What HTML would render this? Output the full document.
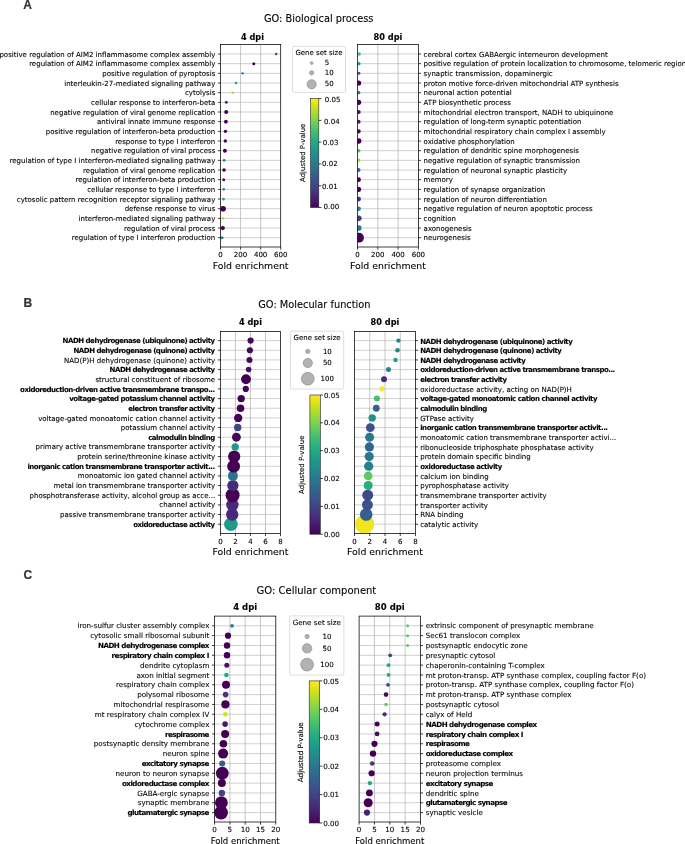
<!DOCTYPE html>
<html><head><meta charset="utf-8"><title>GO enrichment</title>
<style>html,body{margin:0;padding:0;background:#fff}svg{display:block}text{white-space:pre;stroke:#000;stroke-width:0.1px;paint-order:stroke}</style>
</head><body>
<svg width="685" height="844" viewBox="0 0 685 844" font-family="'DejaVu Sans','Liberation Sans',sans-serif">
<rect width="685" height="844" fill="#fff"/>
<text x="23.2" y="8.6" font-family="'Liberation Sans',sans-serif" font-size="12" font-weight="bold" fill="#333" style="stroke:#333;stroke-width:0.2px">A</text>
<text x="318.70" y="21.90" font-size="9.8" text-anchor="middle" fill="#000">GO: Biological process</text>
<path d="M240.57 44.50V247.00M260.63 44.50V247.00" stroke="#b0b0b0" stroke-width="0.7" fill="none"/>
<path d="M220.50 54.00H280.70M220.50 63.67H280.70M220.50 73.34H280.70M220.50 83.01H280.70M220.50 92.67H280.70M220.50 102.34H280.70M220.50 112.01H280.70M220.50 121.68H280.70M220.50 131.35H280.70M220.50 141.02H280.70M220.50 150.68H280.70M220.50 160.35H280.70M220.50 170.02H280.70M220.50 179.69H280.70M220.50 189.36H280.70M220.50 199.03H280.70M220.50 208.69H280.70M220.50 218.36H280.70M220.50 228.03H280.70M220.50 237.70H280.70" stroke="#b0b0b0" stroke-width="0.6" fill="none"/>
<clipPath id="c1"><rect x="220.50" y="44.50" width="60.20" height="202.50"/></clipPath>
<g clip-path="url(#c1)">
<circle cx="222.00" cy="237.70" r="1.50" fill="#287d8e"/>
<circle cx="222.80" cy="228.03" r="2.10" fill="#440154"/>
<circle cx="223.00" cy="218.36" r="1.40" fill="#bddf26"/>
<circle cx="223.10" cy="208.69" r="2.80" fill="#440154"/>
<circle cx="223.50" cy="199.03" r="1.40" fill="#1fa188"/>
<circle cx="223.70" cy="189.36" r="1.40" fill="#21918c"/>
<circle cx="223.70" cy="179.69" r="1.50" fill="#471063"/>
<circle cx="224.00" cy="170.02" r="1.80" fill="#440154"/>
<circle cx="224.10" cy="160.35" r="1.40" fill="#2a788e"/>
<circle cx="224.90" cy="150.68" r="2.00" fill="#440154"/>
<circle cx="225.30" cy="141.02" r="1.70" fill="#46085c"/>
<circle cx="225.40" cy="131.35" r="1.70" fill="#440154"/>
<circle cx="225.90" cy="121.68" r="1.90" fill="#440154"/>
<circle cx="226.20" cy="112.01" r="2.00" fill="#440154"/>
<circle cx="226.30" cy="102.34" r="1.50" fill="#463480"/>
<circle cx="232.70" cy="92.67" r="1.20" fill="#9bd93c"/>
<circle cx="236.10" cy="83.01" r="1.20" fill="#1e9c89"/>
<circle cx="242.60" cy="73.34" r="1.20" fill="#2a788e"/>
<circle cx="253.80" cy="63.67" r="1.50" fill="#440154"/>
<circle cx="276.20" cy="54.00" r="1.20" fill="#463480"/>
</g>
<rect x="220.50" y="44.50" width="60.20" height="202.50" fill="none" stroke="#000" stroke-width="0.75"/>
<path d="M220.50 247.00v2.6M240.57 247.00v2.6M260.63 247.00v2.6M280.70 247.00v2.6M220.50 54.00h-2.6M220.50 63.67h-2.6M220.50 73.34h-2.6M220.50 83.01h-2.6M220.50 92.67h-2.6M220.50 102.34h-2.6M220.50 112.01h-2.6M220.50 121.68h-2.6M220.50 131.35h-2.6M220.50 141.02h-2.6M220.50 150.68h-2.6M220.50 160.35h-2.6M220.50 170.02h-2.6M220.50 179.69h-2.6M220.50 189.36h-2.6M220.50 199.03h-2.6M220.50 208.69h-2.6M220.50 218.36h-2.6M220.50 228.03h-2.6M220.50 237.70h-2.6" stroke="#000" stroke-width="0.75" fill="none"/>
<text x="220.50" y="257.40" font-size="7.03" text-anchor="middle" fill="#000">0</text>
<text x="240.57" y="257.40" font-size="7.03" text-anchor="middle" fill="#000">200</text>
<text x="260.63" y="257.40" font-size="7.03" text-anchor="middle" fill="#000">400</text>
<text x="280.70" y="257.40" font-size="7.03" text-anchor="middle" fill="#000">600</text>
<text x="250.60" y="268.50" font-size="9.35" text-anchor="middle" fill="#000">Fold enrichment</text>
<text x="252.50" y="39.70" font-size="8.2" text-anchor="middle" font-weight="bold" fill="#000">4 dpi</text>
<text x="215.30" y="56.60" font-size="7.03" text-anchor="end" fill="#000">positive regulation of AIM2 inflammasome complex assembly</text>
<text x="215.30" y="66.27" font-size="7.03" text-anchor="end" fill="#000">regulation of AIM2 inflammasome complex assembly</text>
<text x="215.30" y="75.94" font-size="7.03" text-anchor="end" fill="#000">positive regulation of pyroptosis</text>
<text x="215.30" y="85.61" font-size="7.03" text-anchor="end" fill="#000">interleukin-27-mediated signaling pathway</text>
<text x="215.30" y="95.27" font-size="7.03" text-anchor="end" fill="#000">cytolysis</text>
<text x="215.30" y="104.94" font-size="7.03" text-anchor="end" fill="#000">cellular response to interferon-beta</text>
<text x="215.30" y="114.61" font-size="7.03" text-anchor="end" fill="#000">negative regulation of viral genome replication</text>
<text x="215.30" y="124.28" font-size="7.03" text-anchor="end" fill="#000">antiviral innate immune response</text>
<text x="215.30" y="133.95" font-size="7.03" text-anchor="end" fill="#000">positive regulation of interferon-beta production</text>
<text x="215.30" y="143.62" font-size="7.03" text-anchor="end" fill="#000">response to type I interferon</text>
<text x="215.30" y="153.28" font-size="7.03" text-anchor="end" fill="#000">negative regulation of viral process</text>
<text x="215.30" y="162.95" font-size="7.03" text-anchor="end" fill="#000">regulation of type I interferon-mediated signaling pathway</text>
<text x="215.30" y="172.62" font-size="7.03" text-anchor="end" fill="#000">regulation of viral genome replication</text>
<text x="215.30" y="182.29" font-size="7.03" text-anchor="end" fill="#000">regulation of interferon-beta production</text>
<text x="215.30" y="191.96" font-size="7.03" text-anchor="end" fill="#000">cellular response to type I interferon</text>
<text x="215.30" y="201.63" font-size="7.03" text-anchor="end" fill="#000">cytosolic pattern recognition receptor signaling pathway</text>
<text x="215.30" y="211.29" font-size="7.03" text-anchor="end" fill="#000">defense response to virus</text>
<text x="215.30" y="220.96" font-size="7.03" text-anchor="end" fill="#000">interferon-mediated signaling pathway</text>
<text x="215.30" y="230.63" font-size="7.03" text-anchor="end" fill="#000">regulation of viral process</text>
<text x="215.30" y="240.30" font-size="7.03" text-anchor="end" fill="#000">regulation of type I interferon production</text>
<path d="M377.80 44.50V247.00M398.10 44.50V247.00" stroke="#b0b0b0" stroke-width="0.7" fill="none"/>
<path d="M357.50 54.00H418.40M357.50 63.67H418.40M357.50 73.34H418.40M357.50 83.01H418.40M357.50 92.67H418.40M357.50 102.34H418.40M357.50 112.01H418.40M357.50 121.68H418.40M357.50 131.35H418.40M357.50 141.02H418.40M357.50 150.68H418.40M357.50 160.35H418.40M357.50 170.02H418.40M357.50 179.69H418.40M357.50 189.36H418.40M357.50 199.03H418.40M357.50 208.69H418.40M357.50 218.36H418.40M357.50 228.03H418.40M357.50 237.70H418.40" stroke="#b0b0b0" stroke-width="0.6" fill="none"/>
<clipPath id="c2"><rect x="357.50" y="44.50" width="60.90" height="202.50"/></clipPath>
<g clip-path="url(#c2)">
<circle cx="359.00" cy="237.70" r="4.90" fill="#440154"/>
<circle cx="358.80" cy="228.03" r="2.80" fill="#2a788e"/>
<circle cx="358.80" cy="218.36" r="2.80" fill="#433e85"/>
<circle cx="358.60" cy="208.69" r="2.30" fill="#25848e"/>
<circle cx="358.60" cy="199.03" r="2.40" fill="#472a7a"/>
<circle cx="358.50" cy="189.36" r="2.60" fill="#440154"/>
<circle cx="358.50" cy="179.69" r="2.40" fill="#440154"/>
<circle cx="358.60" cy="170.02" r="1.90" fill="#31678e"/>
<circle cx="358.70" cy="160.35" r="1.80" fill="#a8db34"/>
<circle cx="358.70" cy="150.68" r="1.80" fill="#4ec36b"/>
<circle cx="358.60" cy="141.02" r="2.80" fill="#440154"/>
<circle cx="358.60" cy="131.35" r="2.10" fill="#46085c"/>
<circle cx="358.60" cy="121.68" r="2.00" fill="#481a6c"/>
<circle cx="358.60" cy="112.01" r="2.10" fill="#471365"/>
<circle cx="358.60" cy="102.34" r="2.60" fill="#440154"/>
<circle cx="358.70" cy="92.67" r="1.70" fill="#2f6c8e"/>
<circle cx="358.60" cy="83.01" r="2.60" fill="#440154"/>
<circle cx="358.90" cy="73.34" r="1.50" fill="#3b528b"/>
<circle cx="359.00" cy="63.67" r="1.60" fill="#1e9c89"/>
<circle cx="359.20" cy="54.00" r="1.70" fill="#44bf70"/>
</g>
<rect x="357.50" y="44.50" width="60.90" height="202.50" fill="none" stroke="#000" stroke-width="0.75"/>
<path d="M357.50 247.00v2.6M377.80 247.00v2.6M398.10 247.00v2.6M418.40 247.00v2.6M418.40 54.00h2.6M418.40 63.67h2.6M418.40 73.34h2.6M418.40 83.01h2.6M418.40 92.67h2.6M418.40 102.34h2.6M418.40 112.01h2.6M418.40 121.68h2.6M418.40 131.35h2.6M418.40 141.02h2.6M418.40 150.68h2.6M418.40 160.35h2.6M418.40 170.02h2.6M418.40 179.69h2.6M418.40 189.36h2.6M418.40 199.03h2.6M418.40 208.69h2.6M418.40 218.36h2.6M418.40 228.03h2.6M418.40 237.70h2.6" stroke="#000" stroke-width="0.75" fill="none"/>
<text x="357.50" y="257.40" font-size="7.03" text-anchor="middle" fill="#000">0</text>
<text x="377.80" y="257.40" font-size="7.03" text-anchor="middle" fill="#000">200</text>
<text x="398.10" y="257.40" font-size="7.03" text-anchor="middle" fill="#000">400</text>
<text x="418.40" y="257.40" font-size="7.03" text-anchor="middle" fill="#000">600</text>
<text x="387.95" y="268.50" font-size="9.35" text-anchor="middle" fill="#000">Fold enrichment</text>
<text x="387.95" y="39.70" font-size="8.2" text-anchor="middle" font-weight="bold" fill="#000">80 dpi</text>
<text x="423.60" y="56.60" font-size="7.03" text-anchor="start" fill="#000">cerebral cortex GABAergic interneuron development</text>
<text x="423.60" y="66.27" font-size="7.03" text-anchor="start" fill="#000">positive regulation of protein localization to chromosome, telomeric region</text>
<text x="423.60" y="75.94" font-size="7.03" text-anchor="start" fill="#000">synaptic transmission, dopaminergic</text>
<text x="423.60" y="85.61" font-size="7.03" text-anchor="start" fill="#000">proton motive force-driven mitochondrial ATP synthesis</text>
<text x="423.60" y="95.27" font-size="7.03" text-anchor="start" fill="#000">neuronal action potential</text>
<text x="423.60" y="104.94" font-size="7.03" text-anchor="start" fill="#000">ATP biosynthetic process</text>
<text x="423.60" y="114.61" font-size="7.03" text-anchor="start" fill="#000">mitochondrial electron transport, NADH to ubiquinone</text>
<text x="423.60" y="124.28" font-size="7.03" text-anchor="start" fill="#000">regulation of long-term synaptic potentiation</text>
<text x="423.60" y="133.95" font-size="7.03" text-anchor="start" fill="#000">mitochondrial respiratory chain complex I assembly</text>
<text x="423.60" y="143.62" font-size="7.03" text-anchor="start" fill="#000">oxidative phosphorylation</text>
<text x="423.60" y="153.28" font-size="7.03" text-anchor="start" fill="#000">regulation of dendritic spine morphogenesis</text>
<text x="423.60" y="162.95" font-size="7.03" text-anchor="start" fill="#000">negative regulation of synaptic transmission</text>
<text x="423.60" y="172.62" font-size="7.03" text-anchor="start" fill="#000">regulation of neuronal synaptic plasticity</text>
<text x="423.60" y="182.29" font-size="7.03" text-anchor="start" fill="#000">memory</text>
<text x="423.60" y="191.96" font-size="7.03" text-anchor="start" fill="#000">regulation of synapse organization</text>
<text x="423.60" y="201.63" font-size="7.03" text-anchor="start" fill="#000">regulation of neuron differentiation</text>
<text x="423.60" y="211.29" font-size="7.03" text-anchor="start" fill="#000">negative regulation of neuron apoptotic process</text>
<text x="423.60" y="220.96" font-size="7.03" text-anchor="start" fill="#000">cognition</text>
<text x="423.60" y="230.63" font-size="7.03" text-anchor="start" fill="#000">axonogenesis</text>
<text x="423.60" y="240.30" font-size="7.03" text-anchor="start" fill="#000">neurogenesis</text>
<rect x="292.50" y="46.40" width="53.00" height="46.00" rx="1.8" fill="#fff" stroke="#d4d4d4" stroke-width="0.8"/>
<text x="319.00" y="54.70" font-size="7.0" text-anchor="middle" fill="#000">Gene set size</text>
<circle cx="311.60" cy="63.10" r="1.40" fill="#b2b2b2" stroke="#8c8c8c" stroke-width="0.7"/>
<text x="324.70" y="65.20" font-size="7.0" text-anchor="start" fill="#000">5</text>
<circle cx="311.60" cy="72.80" r="2.10" fill="#b2b2b2" stroke="#8c8c8c" stroke-width="0.7"/>
<text x="324.70" y="74.90" font-size="7.0" text-anchor="start" fill="#000">10</text>
<circle cx="311.60" cy="84.30" r="4.60" fill="#b2b2b2" stroke="#8c8c8c" stroke-width="0.7"/>
<text x="324.70" y="86.40" font-size="7.0" text-anchor="start" fill="#000">50</text>
<linearGradient id="gA" x1="0" y1="0" x2="0" y2="1"><stop offset="0.0000" stop-color="#fde725"/><stop offset="0.0312" stop-color="#ece51b"/><stop offset="0.0625" stop-color="#d8e219"/><stop offset="0.0938" stop-color="#c2df23"/><stop offset="0.1250" stop-color="#addc30"/><stop offset="0.1562" stop-color="#98d83e"/><stop offset="0.1875" stop-color="#84d44b"/><stop offset="0.2188" stop-color="#70cf57"/><stop offset="0.2500" stop-color="#5ec962"/><stop offset="0.2812" stop-color="#4ec36b"/><stop offset="0.3125" stop-color="#3fbc73"/><stop offset="0.3438" stop-color="#32b67a"/><stop offset="0.3750" stop-color="#28ae80"/><stop offset="0.4062" stop-color="#22a785"/><stop offset="0.4375" stop-color="#1fa088"/><stop offset="0.4688" stop-color="#1f988b"/><stop offset="0.5000" stop-color="#21918c"/><stop offset="0.5312" stop-color="#23898e"/><stop offset="0.5625" stop-color="#26828e"/><stop offset="0.5938" stop-color="#297a8e"/><stop offset="0.6250" stop-color="#2c728e"/><stop offset="0.6562" stop-color="#2f6b8e"/><stop offset="0.6875" stop-color="#33638d"/><stop offset="0.7188" stop-color="#375b8d"/><stop offset="0.7500" stop-color="#3b528b"/><stop offset="0.7812" stop-color="#3e4989"/><stop offset="0.8125" stop-color="#424086"/><stop offset="0.8438" stop-color="#453781"/><stop offset="0.8750" stop-color="#472d7b"/><stop offset="0.9062" stop-color="#482374"/><stop offset="0.9375" stop-color="#48186a"/><stop offset="0.9688" stop-color="#470d60"/><stop offset="1.0000" stop-color="#440154"/></linearGradient>
<rect x="310.60" y="98.60" width="8.20" height="108.90" fill="url(#gA)" stroke="#222" stroke-width="0.6"/>
<text x="323.50" y="209.20" font-size="7.03" text-anchor="start" fill="#000">0.00</text>
<text x="322.00" y="188.52" font-size="7.03" text-anchor="start" fill="#000">0.01</text>
<text x="322.00" y="166.34" font-size="7.03" text-anchor="start" fill="#000">0.02</text>
<text x="322.80" y="144.76" font-size="7.03" text-anchor="start" fill="#000">0.03</text>
<text x="324.10" y="123.58" font-size="7.03" text-anchor="start" fill="#000">0.04</text>
<text x="324.80" y="101.50" font-size="7.03" text-anchor="start" fill="#000">0.05</text>
<path d="M318.80 207.50h2.6M318.80 185.72h2.6M318.80 163.94h2.6M318.80 142.16h2.6M318.80 120.38h2.6M318.80 98.60h2.6" stroke="#000" stroke-width="0.75" fill="none"/>
<text transform="translate(304.60 152.80) rotate(-90)" font-size="7.0" text-anchor="middle" fill="#000">Adjusted P-value</text>
<text x="23.4" y="306.5" font-family="'Liberation Sans',sans-serif" font-size="12" font-weight="bold" fill="#333" style="stroke:#333;stroke-width:0.2px">B</text>
<text x="314.40" y="307.50" font-size="9.8" text-anchor="middle" fill="#000">GO: Molecular function</text>
<path d="M235.43 331.40V533.40M250.45 331.40V533.40M265.48 331.40V533.40" stroke="#b0b0b0" stroke-width="0.7" fill="none"/>
<path d="M220.40 340.60H280.50M220.40 350.26H280.50M220.40 359.93H280.50M220.40 369.59H280.50M220.40 379.25H280.50M220.40 388.92H280.50M220.40 398.58H280.50M220.40 408.24H280.50M220.40 417.91H280.50M220.40 427.57H280.50M220.40 437.23H280.50M220.40 446.89H280.50M220.40 456.56H280.50M220.40 466.22H280.50M220.40 475.88H280.50M220.40 485.55H280.50M220.40 495.21H280.50M220.40 504.87H280.50M220.40 514.54H280.50M220.40 524.20H280.50" stroke="#b0b0b0" stroke-width="0.6" fill="none"/>
<clipPath id="c3"><rect x="220.40" y="331.40" width="60.10" height="202.00"/></clipPath>
<g clip-path="url(#c3)">
<circle cx="230.90" cy="524.20" r="6.80" fill="#1e9c89"/>
<circle cx="232.20" cy="514.54" r="6.20" fill="#472a7a"/>
<circle cx="232.40" cy="504.87" r="6.20" fill="#472a7a"/>
<circle cx="232.60" cy="495.21" r="7.00" fill="#440154"/>
<circle cx="232.90" cy="485.55" r="5.60" fill="#472a7a"/>
<circle cx="232.90" cy="475.88" r="5.00" fill="#2c738e"/>
<circle cx="233.60" cy="466.22" r="6.40" fill="#440154"/>
<circle cx="234.20" cy="456.56" r="6.10" fill="#440154"/>
<circle cx="235.20" cy="446.89" r="3.70" fill="#1e9c89"/>
<circle cx="236.40" cy="437.23" r="4.40" fill="#450457"/>
<circle cx="237.70" cy="427.57" r="3.70" fill="#414487"/>
<circle cx="238.20" cy="417.91" r="4.20" fill="#450457"/>
<circle cx="240.50" cy="408.24" r="3.80" fill="#450457"/>
<circle cx="241.20" cy="398.58" r="3.70" fill="#450457"/>
<circle cx="245.80" cy="388.92" r="3.10" fill="#450457"/>
<circle cx="246.00" cy="379.25" r="4.90" fill="#440154"/>
<circle cx="248.60" cy="369.59" r="2.80" fill="#471365"/>
<circle cx="249.50" cy="359.93" r="3.00" fill="#46085c"/>
<circle cx="249.90" cy="350.26" r="3.10" fill="#46085c"/>
<circle cx="250.60" cy="340.60" r="3.10" fill="#46085c"/>
</g>
<rect x="220.40" y="331.40" width="60.10" height="202.00" fill="none" stroke="#000" stroke-width="0.75"/>
<path d="M220.40 533.40v2.6M235.43 533.40v2.6M250.45 533.40v2.6M265.48 533.40v2.6M280.50 533.40v2.6M220.40 340.60h-2.6M220.40 350.26h-2.6M220.40 359.93h-2.6M220.40 369.59h-2.6M220.40 379.25h-2.6M220.40 388.92h-2.6M220.40 398.58h-2.6M220.40 408.24h-2.6M220.40 417.91h-2.6M220.40 427.57h-2.6M220.40 437.23h-2.6M220.40 446.89h-2.6M220.40 456.56h-2.6M220.40 466.22h-2.6M220.40 475.88h-2.6M220.40 485.55h-2.6M220.40 495.21h-2.6M220.40 504.87h-2.6M220.40 514.54h-2.6M220.40 524.20h-2.6" stroke="#000" stroke-width="0.75" fill="none"/>
<text x="220.40" y="543.60" font-size="7.03" text-anchor="middle" fill="#000">0</text>
<text x="235.43" y="543.60" font-size="7.03" text-anchor="middle" fill="#000">2</text>
<text x="250.45" y="543.60" font-size="7.03" text-anchor="middle" fill="#000">4</text>
<text x="265.48" y="543.60" font-size="7.03" text-anchor="middle" fill="#000">6</text>
<text x="280.50" y="543.60" font-size="7.03" text-anchor="middle" fill="#000">8</text>
<text x="250.45" y="555.00" font-size="9.35" text-anchor="middle" fill="#000">Fold enrichment</text>
<text x="250.45" y="324.50" font-size="8.2" text-anchor="middle" font-weight="bold" fill="#000">4 dpi</text>
<text x="215.20" y="343.20" font-size="7.03" text-anchor="end" font-weight="bold" fill="#000" textLength="152.59" lengthAdjust="spacing">NADH dehydrogenase (ubiquinone) activity</text>
<text x="215.20" y="352.86" font-size="7.03" text-anchor="end" font-weight="bold" fill="#000" textLength="141.72" lengthAdjust="spacing">NADH dehydrogenase (quinone) activity</text>
<text x="215.20" y="362.53" font-size="7.03" text-anchor="end" fill="#000">NAD(P)H dehydrogenase (quinone) activity</text>
<text x="215.20" y="372.19" font-size="7.03" text-anchor="end" font-weight="bold" fill="#000" textLength="105.59" lengthAdjust="spacing">NADH dehydrogenase activity</text>
<text x="215.20" y="381.85" font-size="7.03" text-anchor="end" fill="#000">structural constituent of ribosome</text>
<text x="215.20" y="391.52" font-size="7.03" text-anchor="end" font-weight="bold" fill="#000" textLength="195.08" lengthAdjust="spacing">oxidoreduction-driven active transmembrane transpo...</text>
<text x="215.20" y="401.18" font-size="7.03" text-anchor="end" font-weight="bold" fill="#000" textLength="145.96" lengthAdjust="spacing">voltage-gated potassium channel activity</text>
<text x="215.20" y="410.84" font-size="7.03" text-anchor="end" font-weight="bold" fill="#000" textLength="86.86" lengthAdjust="spacing">electron transfer activity</text>
<text x="215.20" y="420.51" font-size="7.03" text-anchor="end" fill="#000">voltage-gated monoatomic cation channel activity</text>
<text x="215.20" y="430.17" font-size="7.03" text-anchor="end" fill="#000">potassium channel activity</text>
<text x="215.20" y="439.83" font-size="7.03" text-anchor="end" font-weight="bold" fill="#000" textLength="67.00" lengthAdjust="spacing">calmodulin binding</text>
<text x="215.20" y="449.49" font-size="7.03" text-anchor="end" fill="#000">primary active transmembrane transporter activity</text>
<text x="215.20" y="459.16" font-size="7.03" text-anchor="end" fill="#000">protein serine/threonine kinase activity</text>
<text x="215.20" y="468.82" font-size="7.03" text-anchor="end" font-weight="bold" fill="#000" textLength="187.79" lengthAdjust="spacing">inorganic cation transmembrane transporter activit...</text>
<text x="215.20" y="478.48" font-size="7.03" text-anchor="end" fill="#000">monoatomic ion gated channel activity</text>
<text x="215.20" y="488.15" font-size="7.03" text-anchor="end" fill="#000">metal ion transmembrane transporter activity</text>
<text x="215.20" y="497.81" font-size="7.03" text-anchor="end" fill="#000">phosphotransferase activity, alcohol group as acce...</text>
<text x="215.20" y="507.47" font-size="7.03" text-anchor="end" fill="#000">channel activity</text>
<text x="215.20" y="517.14" font-size="7.03" text-anchor="end" fill="#000">passive transmembrane transporter activity</text>
<text x="215.20" y="526.80" font-size="7.03" text-anchor="end" font-weight="bold" fill="#000" textLength="82.01" lengthAdjust="spacing">oxidoreductase activity</text>
<path d="M369.75 331.40V533.40M385.00 331.40V533.40M400.25 331.40V533.40" stroke="#b0b0b0" stroke-width="0.7" fill="none"/>
<path d="M354.50 340.60H415.50M354.50 350.26H415.50M354.50 359.93H415.50M354.50 369.59H415.50M354.50 379.25H415.50M354.50 388.92H415.50M354.50 398.58H415.50M354.50 408.24H415.50M354.50 417.91H415.50M354.50 427.57H415.50M354.50 437.23H415.50M354.50 446.89H415.50M354.50 456.56H415.50M354.50 466.22H415.50M354.50 475.88H415.50M354.50 485.55H415.50M354.50 495.21H415.50M354.50 504.87H415.50M354.50 514.54H415.50M354.50 524.20H415.50" stroke="#b0b0b0" stroke-width="0.6" fill="none"/>
<clipPath id="c4"><rect x="354.50" y="331.40" width="61.00" height="202.00"/></clipPath>
<g clip-path="url(#c4)">
<circle cx="364.60" cy="524.20" r="9.60" fill="#f1e51d"/>
<circle cx="366.20" cy="514.54" r="6.30" fill="#355f8d"/>
<circle cx="367.40" cy="504.87" r="5.50" fill="#3b528b"/>
<circle cx="367.70" cy="495.21" r="5.50" fill="#3e4989"/>
<circle cx="368.20" cy="485.55" r="4.50" fill="#26ad81"/>
<circle cx="368.20" cy="475.88" r="4.30" fill="#5ec962"/>
<circle cx="368.70" cy="466.22" r="4.60" fill="#287d8e"/>
<circle cx="369.20" cy="456.56" r="4.60" fill="#2a788e"/>
<circle cx="369.40" cy="446.89" r="4.60" fill="#32648e"/>
<circle cx="369.60" cy="437.23" r="4.50" fill="#2a788e"/>
<circle cx="370.30" cy="427.57" r="4.40" fill="#3b528b"/>
<circle cx="372.20" cy="417.91" r="3.70" fill="#21918c"/>
<circle cx="376.30" cy="408.24" r="3.40" fill="#355f8d"/>
<circle cx="376.90" cy="398.58" r="3.00" fill="#44bf70"/>
<circle cx="381.90" cy="388.92" r="2.60" fill="#fde725"/>
<circle cx="384.00" cy="379.25" r="3.00" fill="#472e7c"/>
<circle cx="388.50" cy="369.59" r="2.50" fill="#25848e"/>
<circle cx="395.50" cy="359.93" r="2.20" fill="#1e9c89"/>
<circle cx="397.50" cy="350.26" r="2.30" fill="#24868e"/>
<circle cx="398.40" cy="340.60" r="2.20" fill="#25848e"/>
</g>
<rect x="354.50" y="331.40" width="61.00" height="202.00" fill="none" stroke="#000" stroke-width="0.75"/>
<path d="M354.50 533.40v2.6M369.75 533.40v2.6M385.00 533.40v2.6M400.25 533.40v2.6M415.50 533.40v2.6M415.50 340.60h2.6M415.50 350.26h2.6M415.50 359.93h2.6M415.50 369.59h2.6M415.50 379.25h2.6M415.50 388.92h2.6M415.50 398.58h2.6M415.50 408.24h2.6M415.50 417.91h2.6M415.50 427.57h2.6M415.50 437.23h2.6M415.50 446.89h2.6M415.50 456.56h2.6M415.50 466.22h2.6M415.50 475.88h2.6M415.50 485.55h2.6M415.50 495.21h2.6M415.50 504.87h2.6M415.50 514.54h2.6M415.50 524.20h2.6" stroke="#000" stroke-width="0.75" fill="none"/>
<text x="354.50" y="543.60" font-size="7.03" text-anchor="middle" fill="#000">0</text>
<text x="369.75" y="543.60" font-size="7.03" text-anchor="middle" fill="#000">2</text>
<text x="385.00" y="543.60" font-size="7.03" text-anchor="middle" fill="#000">4</text>
<text x="400.25" y="543.60" font-size="7.03" text-anchor="middle" fill="#000">6</text>
<text x="415.50" y="543.60" font-size="7.03" text-anchor="middle" fill="#000">8</text>
<text x="385.00" y="555.00" font-size="9.35" text-anchor="middle" fill="#000">Fold enrichment</text>
<text x="385.00" y="324.50" font-size="8.2" text-anchor="middle" font-weight="bold" fill="#000">80 dpi</text>
<text x="420.20" y="343.50" font-size="7.03" text-anchor="start" font-weight="bold" fill="#000" textLength="152.59" lengthAdjust="spacing">NADH dehydrogenase (ubiquinone) activity</text>
<text x="420.20" y="353.16" font-size="7.03" text-anchor="start" font-weight="bold" fill="#000" textLength="141.72" lengthAdjust="spacing">NADH dehydrogenase (quinone) activity</text>
<text x="420.20" y="362.83" font-size="7.03" text-anchor="start" font-weight="bold" fill="#000" textLength="105.59" lengthAdjust="spacing">NADH dehydrogenase activity</text>
<text x="420.20" y="372.49" font-size="7.03" text-anchor="start" font-weight="bold" fill="#000" textLength="195.08" lengthAdjust="spacing">oxidoreduction-driven active transmembrane transpo...</text>
<text x="420.20" y="382.15" font-size="7.03" text-anchor="start" font-weight="bold" fill="#000" textLength="86.86" lengthAdjust="spacing">electron transfer activity</text>
<text x="420.20" y="391.82" font-size="7.03" text-anchor="start" fill="#000">oxidoreductase activity, acting on NAD(P)H</text>
<text x="420.20" y="401.48" font-size="7.03" text-anchor="start" font-weight="bold" fill="#000" textLength="177.37" lengthAdjust="spacing">voltage-gated monoatomic cation channel activity</text>
<text x="420.20" y="411.14" font-size="7.03" text-anchor="start" font-weight="bold" fill="#000" textLength="67.00" lengthAdjust="spacing">calmodulin binding</text>
<text x="420.20" y="420.81" font-size="7.03" text-anchor="start" fill="#000">GTPase activity</text>
<text x="420.20" y="430.47" font-size="7.03" text-anchor="start" font-weight="bold" fill="#000" textLength="187.79" lengthAdjust="spacing">inorganic cation transmembrane transporter activit...</text>
<text x="420.20" y="440.13" font-size="7.03" text-anchor="start" fill="#000">monoatomic cation transmembrane transporter activi...</text>
<text x="420.20" y="449.79" font-size="7.03" text-anchor="start" fill="#000">ribonucleoside triphosphate phosphatase activity</text>
<text x="420.20" y="459.46" font-size="7.03" text-anchor="start" fill="#000">protein domain specific binding</text>
<text x="420.20" y="469.12" font-size="7.03" text-anchor="start" font-weight="bold" fill="#000" textLength="82.01" lengthAdjust="spacing">oxidoreductase activity</text>
<text x="420.20" y="478.78" font-size="7.03" text-anchor="start" fill="#000">calcium ion binding</text>
<text x="420.20" y="488.45" font-size="7.03" text-anchor="start" fill="#000">pyrophosphatase activity</text>
<text x="420.20" y="498.11" font-size="7.03" text-anchor="start" fill="#000">transmembrane transporter activity</text>
<text x="420.20" y="507.77" font-size="7.03" text-anchor="start" fill="#000">transporter activity</text>
<text x="420.20" y="517.44" font-size="7.03" text-anchor="start" fill="#000">RNA binding</text>
<text x="420.20" y="527.10" font-size="7.03" text-anchor="start" fill="#000">catalytic activity</text>
<rect x="290.50" y="331.20" width="53.20" height="57.80" rx="1.8" fill="#fff" stroke="#d4d4d4" stroke-width="0.8"/>
<text x="317.10" y="339.60" font-size="7.0" text-anchor="middle" fill="#000">Gene set size</text>
<circle cx="307.80" cy="351.40" r="2.10" fill="#b2b2b2" stroke="#8c8c8c" stroke-width="0.7"/>
<text x="322.90" y="353.50" font-size="7.0" text-anchor="start" fill="#000">10</text>
<circle cx="307.80" cy="363.00" r="4.60" fill="#b2b2b2" stroke="#8c8c8c" stroke-width="0.7"/>
<text x="322.90" y="365.10" font-size="7.0" text-anchor="start" fill="#000">50</text>
<circle cx="307.80" cy="378.70" r="6.40" fill="#b2b2b2" stroke="#8c8c8c" stroke-width="0.7"/>
<text x="320.60" y="380.80" font-size="7.0" text-anchor="start" fill="#000">100</text>
<linearGradient id="gB" x1="0" y1="0" x2="0" y2="1"><stop offset="0.0000" stop-color="#fde725"/><stop offset="0.0312" stop-color="#ece51b"/><stop offset="0.0625" stop-color="#d8e219"/><stop offset="0.0938" stop-color="#c2df23"/><stop offset="0.1250" stop-color="#addc30"/><stop offset="0.1562" stop-color="#98d83e"/><stop offset="0.1875" stop-color="#84d44b"/><stop offset="0.2188" stop-color="#70cf57"/><stop offset="0.2500" stop-color="#5ec962"/><stop offset="0.2812" stop-color="#4ec36b"/><stop offset="0.3125" stop-color="#3fbc73"/><stop offset="0.3438" stop-color="#32b67a"/><stop offset="0.3750" stop-color="#28ae80"/><stop offset="0.4062" stop-color="#22a785"/><stop offset="0.4375" stop-color="#1fa088"/><stop offset="0.4688" stop-color="#1f988b"/><stop offset="0.5000" stop-color="#21918c"/><stop offset="0.5312" stop-color="#23898e"/><stop offset="0.5625" stop-color="#26828e"/><stop offset="0.5938" stop-color="#297a8e"/><stop offset="0.6250" stop-color="#2c728e"/><stop offset="0.6562" stop-color="#2f6b8e"/><stop offset="0.6875" stop-color="#33638d"/><stop offset="0.7188" stop-color="#375b8d"/><stop offset="0.7500" stop-color="#3b528b"/><stop offset="0.7812" stop-color="#3e4989"/><stop offset="0.8125" stop-color="#424086"/><stop offset="0.8438" stop-color="#453781"/><stop offset="0.8750" stop-color="#472d7b"/><stop offset="0.9062" stop-color="#482374"/><stop offset="0.9375" stop-color="#48186a"/><stop offset="0.9688" stop-color="#470d60"/><stop offset="1.0000" stop-color="#440154"/></linearGradient>
<rect x="309.90" y="395.00" width="10.40" height="139.20" fill="url(#gB)" stroke="#222" stroke-width="0.6"/>
<text x="324.10" y="536.80" font-size="7.03" text-anchor="start" fill="#000">0.00</text>
<text x="324.10" y="508.96" font-size="7.03" text-anchor="start" fill="#000">0.01</text>
<text x="324.10" y="481.12" font-size="7.03" text-anchor="start" fill="#000">0.02</text>
<text x="324.10" y="453.28" font-size="7.03" text-anchor="start" fill="#000">0.03</text>
<text x="324.10" y="425.44" font-size="7.03" text-anchor="start" fill="#000">0.04</text>
<text x="324.10" y="397.60" font-size="7.03" text-anchor="start" fill="#000">0.05</text>
<path d="M320.30 534.20h2.6M320.30 506.36h2.6M320.30 478.52h2.6M320.30 450.68h2.6M320.30 422.84h2.6M320.30 395.00h2.6" stroke="#000" stroke-width="0.75" fill="none"/>
<text transform="translate(303.80 464.70) rotate(-90)" font-size="7.0" text-anchor="middle" fill="#000">Adjusted P-value</text>
<text x="23.4" y="579.3" font-family="'Liberation Sans',sans-serif" font-size="12" font-weight="bold" fill="#333" style="stroke:#333;stroke-width:0.2px">C</text>
<text x="316.40" y="593.90" font-size="10.0" text-anchor="middle" fill="#000">GO: Cellular component</text>
<path d="M229.90 616.10V822.00M245.20 616.10V822.00M260.50 616.10V822.00" stroke="#b0b0b0" stroke-width="0.7" fill="none"/>
<path d="M214.60 625.80H275.80M214.60 635.63H275.80M214.60 645.46H275.80M214.60 655.29H275.80M214.60 665.13H275.80M214.60 674.96H275.80M214.60 684.79H275.80M214.60 694.62H275.80M214.60 704.45H275.80M214.60 714.28H275.80M214.60 724.12H275.80M214.60 733.95H275.80M214.60 743.78H275.80M214.60 753.61H275.80M214.60 763.44H275.80M214.60 773.27H275.80M214.60 783.11H275.80M214.60 792.94H275.80M214.60 802.77H275.80M214.60 812.60H275.80" stroke="#b0b0b0" stroke-width="0.6" fill="none"/>
<clipPath id="c5"><rect x="214.60" y="616.10" width="61.20" height="205.90"/></clipPath>
<g clip-path="url(#c5)">
<circle cx="221.10" cy="812.60" r="6.90" fill="#440154"/>
<circle cx="221.40" cy="802.77" r="6.40" fill="#440154"/>
<circle cx="221.90" cy="792.94" r="3.20" fill="#414487"/>
<circle cx="221.90" cy="783.11" r="4.00" fill="#440154"/>
<circle cx="222.30" cy="773.27" r="6.40" fill="#440154"/>
<circle cx="222.20" cy="763.44" r="3.00" fill="#355f8d"/>
<circle cx="223.10" cy="753.61" r="5.00" fill="#440154"/>
<circle cx="223.40" cy="743.78" r="3.80" fill="#440154"/>
<circle cx="225.10" cy="733.95" r="4.00" fill="#440154"/>
<circle cx="225.10" cy="724.12" r="2.80" fill="#481769"/>
<circle cx="225.30" cy="714.28" r="2.40" fill="#d2e21b"/>
<circle cx="225.40" cy="704.45" r="4.10" fill="#440154"/>
<circle cx="225.60" cy="694.62" r="2.80" fill="#463480"/>
<circle cx="226.00" cy="684.79" r="4.00" fill="#440154"/>
<circle cx="226.40" cy="674.96" r="2.30" fill="#22a884"/>
<circle cx="226.80" cy="665.13" r="2.50" fill="#471365"/>
<circle cx="227.00" cy="655.29" r="3.20" fill="#440154"/>
<circle cx="227.00" cy="645.46" r="3.20" fill="#440154"/>
<circle cx="228.00" cy="635.63" r="3.10" fill="#440154"/>
<circle cx="232.00" cy="625.80" r="1.90" fill="#287d8e"/>
</g>
<rect x="214.60" y="616.10" width="61.20" height="205.90" fill="none" stroke="#000" stroke-width="0.75"/>
<path d="M214.60 822.00v2.6M229.90 822.00v2.6M245.20 822.00v2.6M260.50 822.00v2.6M275.80 822.00v2.6M214.60 625.80h-2.6M214.60 635.63h-2.6M214.60 645.46h-2.6M214.60 655.29h-2.6M214.60 665.13h-2.6M214.60 674.96h-2.6M214.60 684.79h-2.6M214.60 694.62h-2.6M214.60 704.45h-2.6M214.60 714.28h-2.6M214.60 724.12h-2.6M214.60 733.95h-2.6M214.60 743.78h-2.6M214.60 753.61h-2.6M214.60 763.44h-2.6M214.60 773.27h-2.6M214.60 783.11h-2.6M214.60 792.94h-2.6M214.60 802.77h-2.6M214.60 812.60h-2.6" stroke="#000" stroke-width="0.75" fill="none"/>
<text x="214.60" y="832.40" font-size="7.16" text-anchor="middle" fill="#000">0</text>
<text x="229.90" y="832.40" font-size="7.16" text-anchor="middle" fill="#000">5</text>
<text x="245.20" y="832.40" font-size="7.16" text-anchor="middle" fill="#000">10</text>
<text x="260.50" y="832.40" font-size="7.16" text-anchor="middle" fill="#000">15</text>
<text x="275.80" y="832.40" font-size="7.16" text-anchor="middle" fill="#000">20</text>
<text x="245.20" y="843.80" font-size="8.5" text-anchor="middle" fill="#000">Fold enrichment</text>
<text x="245.20" y="609.60" font-size="8.5" text-anchor="middle" font-weight="bold" fill="#000">4 dpi</text>
<text x="209.40" y="628.40" font-size="7.16" text-anchor="end" fill="#000">iron-sulfur cluster assembly complex</text>
<text x="209.40" y="638.23" font-size="7.16" text-anchor="end" fill="#000">cytosolic small ribosomal subunit</text>
<text x="209.40" y="648.06" font-size="7.16" text-anchor="end" font-weight="bold" fill="#000" textLength="111.50" lengthAdjust="spacing">NADH dehydrogenase complex</text>
<text x="209.40" y="657.89" font-size="7.16" text-anchor="end" font-weight="bold" fill="#000" textLength="97.83" lengthAdjust="spacing">respiratory chain complex I</text>
<text x="209.40" y="667.73" font-size="7.16" text-anchor="end" fill="#000">dendrite cytoplasm</text>
<text x="209.40" y="677.56" font-size="7.16" text-anchor="end" fill="#000">axon initial segment</text>
<text x="209.40" y="687.39" font-size="7.16" text-anchor="end" fill="#000">respiratory chain complex</text>
<text x="209.40" y="697.22" font-size="7.16" text-anchor="end" fill="#000">polysomal ribosome</text>
<text x="209.40" y="707.05" font-size="7.16" text-anchor="end" fill="#000">mitochondrial respirasome</text>
<text x="209.40" y="716.88" font-size="7.16" text-anchor="end" fill="#000">mt respiratory chain complex IV</text>
<text x="209.40" y="726.72" font-size="7.16" text-anchor="end" fill="#000">cytochrome complex</text>
<text x="209.40" y="736.55" font-size="7.16" text-anchor="end" font-weight="bold" fill="#000" textLength="44.28" lengthAdjust="spacing">respirasome</text>
<text x="209.40" y="746.38" font-size="7.16" text-anchor="end" fill="#000">postsynaptic density membrane</text>
<text x="209.40" y="756.21" font-size="7.16" text-anchor="end" fill="#000">neuron spine</text>
<text x="209.40" y="766.04" font-size="7.16" text-anchor="end" font-weight="bold" fill="#000" textLength="67.73" lengthAdjust="spacing">excitatory synapse</text>
<text x="209.40" y="775.87" font-size="7.16" text-anchor="end" fill="#000">neuron to neuron synapse</text>
<text x="209.40" y="785.71" font-size="7.16" text-anchor="end" font-weight="bold" fill="#000" textLength="87.47" lengthAdjust="spacing">oxidoreductase complex</text>
<text x="209.40" y="795.54" font-size="7.16" text-anchor="end" fill="#000">GABA-ergic synapse</text>
<text x="209.40" y="805.37" font-size="7.16" text-anchor="end" fill="#000">synaptic membrane</text>
<text x="209.40" y="815.20" font-size="7.16" text-anchor="end" font-weight="bold" fill="#000" textLength="81.98" lengthAdjust="spacing">glutamatergic synapse</text>
<path d="M374.45 616.10V822.00M389.80 616.10V822.00M405.15 616.10V822.00" stroke="#b0b0b0" stroke-width="0.7" fill="none"/>
<path d="M359.10 625.80H420.50M359.10 635.63H420.50M359.10 645.46H420.50M359.10 655.29H420.50M359.10 665.13H420.50M359.10 674.96H420.50M359.10 684.79H420.50M359.10 694.62H420.50M359.10 704.45H420.50M359.10 714.28H420.50M359.10 724.12H420.50M359.10 733.95H420.50M359.10 743.78H420.50M359.10 753.61H420.50M359.10 763.44H420.50M359.10 773.27H420.50M359.10 783.11H420.50M359.10 792.94H420.50M359.10 802.77H420.50M359.10 812.60H420.50" stroke="#b0b0b0" stroke-width="0.6" fill="none"/>
<clipPath id="c6"><rect x="359.10" y="616.10" width="61.40" height="205.90"/></clipPath>
<g clip-path="url(#c6)">
<circle cx="367.00" cy="812.60" r="3.10" fill="#482475"/>
<circle cx="368.20" cy="802.77" r="4.50" fill="#440154"/>
<circle cx="369.40" cy="792.94" r="3.40" fill="#440154"/>
<circle cx="369.90" cy="783.11" r="2.20" fill="#22a884"/>
<circle cx="371.60" cy="773.27" r="3.10" fill="#440154"/>
<circle cx="372.20" cy="763.44" r="2.30" fill="#453781"/>
<circle cx="373.00" cy="753.61" r="3.20" fill="#440154"/>
<circle cx="374.50" cy="743.78" r="3.10" fill="#440154"/>
<circle cx="377.10" cy="733.95" r="2.40" fill="#460b5e"/>
<circle cx="377.10" cy="724.12" r="2.50" fill="#450457"/>
<circle cx="384.60" cy="714.28" r="2.10" fill="#472e7c"/>
<circle cx="386.00" cy="704.45" r="1.70" fill="#5ec962"/>
<circle cx="386.00" cy="694.62" r="2.30" fill="#460b5e"/>
<circle cx="388.00" cy="684.79" r="1.90" fill="#414487"/>
<circle cx="388.50" cy="674.96" r="1.90" fill="#22a884"/>
<circle cx="388.50" cy="665.13" r="1.90" fill="#22a884"/>
<circle cx="390.20" cy="655.29" r="1.90" fill="#414487"/>
<circle cx="407.60" cy="645.46" r="1.50" fill="#5ec962"/>
<circle cx="407.60" cy="635.63" r="1.50" fill="#5ec962"/>
<circle cx="407.60" cy="625.80" r="1.50" fill="#5ec962"/>
</g>
<rect x="359.10" y="616.10" width="61.40" height="205.90" fill="none" stroke="#000" stroke-width="0.75"/>
<path d="M359.10 822.00v2.6M374.45 822.00v2.6M389.80 822.00v2.6M405.15 822.00v2.6M420.50 822.00v2.6M420.50 625.80h2.6M420.50 635.63h2.6M420.50 645.46h2.6M420.50 655.29h2.6M420.50 665.13h2.6M420.50 674.96h2.6M420.50 684.79h2.6M420.50 694.62h2.6M420.50 704.45h2.6M420.50 714.28h2.6M420.50 724.12h2.6M420.50 733.95h2.6M420.50 743.78h2.6M420.50 753.61h2.6M420.50 763.44h2.6M420.50 773.27h2.6M420.50 783.11h2.6M420.50 792.94h2.6M420.50 802.77h2.6M420.50 812.60h2.6" stroke="#000" stroke-width="0.75" fill="none"/>
<text x="359.10" y="832.40" font-size="7.16" text-anchor="middle" fill="#000">0</text>
<text x="374.45" y="832.40" font-size="7.16" text-anchor="middle" fill="#000">5</text>
<text x="389.80" y="832.40" font-size="7.16" text-anchor="middle" fill="#000">10</text>
<text x="405.15" y="832.40" font-size="7.16" text-anchor="middle" fill="#000">15</text>
<text x="420.50" y="832.40" font-size="7.16" text-anchor="middle" fill="#000">20</text>
<text x="389.80" y="843.80" font-size="8.5" text-anchor="middle" fill="#000">Fold enrichment</text>
<text x="389.80" y="609.60" font-size="8.5" text-anchor="middle" font-weight="bold" fill="#000">80 dpi</text>
<text x="425.70" y="628.40" font-size="7.16" text-anchor="start" fill="#000">extrinsic component of presynaptic membrane</text>
<text x="425.70" y="638.23" font-size="7.16" text-anchor="start" fill="#000">Sec61 translocon complex</text>
<text x="425.70" y="648.06" font-size="7.16" text-anchor="start" fill="#000">postsynaptic endocytic zone</text>
<text x="425.70" y="657.89" font-size="7.16" text-anchor="start" fill="#000">presynaptic cytosol</text>
<text x="425.70" y="667.73" font-size="7.16" text-anchor="start" fill="#000">chaperonin-containing T-complex</text>
<text x="425.70" y="677.56" font-size="7.16" text-anchor="start" fill="#000">mt proton-transp. ATP synthase complex, coupling factor F(o)</text>
<text x="425.70" y="687.39" font-size="7.16" text-anchor="start" fill="#000">proton-transp. ATP synthase complex, coupling factor F(o)</text>
<text x="425.70" y="697.22" font-size="7.16" text-anchor="start" fill="#000">mt proton-transp. ATP synthase complex</text>
<text x="425.70" y="707.05" font-size="7.16" text-anchor="start" fill="#000">postsynaptic cytosol</text>
<text x="425.70" y="716.88" font-size="7.16" text-anchor="start" fill="#000">calyx of Held</text>
<text x="425.70" y="726.72" font-size="7.16" text-anchor="start" font-weight="bold" fill="#000" textLength="111.50" lengthAdjust="spacing">NADH dehydrogenase complex</text>
<text x="425.70" y="736.55" font-size="7.16" text-anchor="start" font-weight="bold" fill="#000" textLength="97.83" lengthAdjust="spacing">respiratory chain complex I</text>
<text x="425.70" y="746.38" font-size="7.16" text-anchor="start" font-weight="bold" fill="#000" textLength="44.28" lengthAdjust="spacing">respirasome</text>
<text x="425.70" y="756.21" font-size="7.16" text-anchor="start" font-weight="bold" fill="#000" textLength="87.47" lengthAdjust="spacing">oxidoreductase complex</text>
<text x="425.70" y="766.04" font-size="7.16" text-anchor="start" fill="#000">proteasome complex</text>
<text x="425.70" y="775.87" font-size="7.16" text-anchor="start" fill="#000">neuron projection terminus</text>
<text x="425.70" y="785.71" font-size="7.16" text-anchor="start" font-weight="bold" fill="#000" textLength="67.73" lengthAdjust="spacing">excitatory synapse</text>
<text x="425.70" y="795.54" font-size="7.16" text-anchor="start" fill="#000">dendritic spine</text>
<text x="425.70" y="805.37" font-size="7.16" text-anchor="start" font-weight="bold" fill="#000" textLength="81.98" lengthAdjust="spacing">glutamatergic synapse</text>
<text x="425.70" y="815.20" font-size="7.16" text-anchor="start" fill="#000">synaptic vesicle</text>
<rect x="289.60" y="615.90" width="54.30" height="59.20" rx="1.8" fill="#fff" stroke="#d4d4d4" stroke-width="0.8"/>
<text x="316.75" y="624.60" font-size="7.15" text-anchor="middle" fill="#000">Gene set size</text>
<circle cx="307.10" cy="636.50" r="2.10" fill="#b2b2b2" stroke="#8c8c8c" stroke-width="0.7"/>
<text x="322.60" y="638.60" font-size="7.1" text-anchor="start" fill="#000">10</text>
<circle cx="307.10" cy="648.40" r="4.70" fill="#b2b2b2" stroke="#8c8c8c" stroke-width="0.7"/>
<text x="322.60" y="650.50" font-size="7.1" text-anchor="start" fill="#000">50</text>
<circle cx="307.10" cy="664.60" r="6.40" fill="#b2b2b2" stroke="#8c8c8c" stroke-width="0.7"/>
<text x="320.30" y="666.70" font-size="7.1" text-anchor="start" fill="#000">100</text>
<linearGradient id="gC" x1="0" y1="0" x2="0" y2="1"><stop offset="0.0000" stop-color="#fde725"/><stop offset="0.0312" stop-color="#ece51b"/><stop offset="0.0625" stop-color="#d8e219"/><stop offset="0.0938" stop-color="#c2df23"/><stop offset="0.1250" stop-color="#addc30"/><stop offset="0.1562" stop-color="#98d83e"/><stop offset="0.1875" stop-color="#84d44b"/><stop offset="0.2188" stop-color="#70cf57"/><stop offset="0.2500" stop-color="#5ec962"/><stop offset="0.2812" stop-color="#4ec36b"/><stop offset="0.3125" stop-color="#3fbc73"/><stop offset="0.3438" stop-color="#32b67a"/><stop offset="0.3750" stop-color="#28ae80"/><stop offset="0.4062" stop-color="#22a785"/><stop offset="0.4375" stop-color="#1fa088"/><stop offset="0.4688" stop-color="#1f988b"/><stop offset="0.5000" stop-color="#21918c"/><stop offset="0.5312" stop-color="#23898e"/><stop offset="0.5625" stop-color="#26828e"/><stop offset="0.5938" stop-color="#297a8e"/><stop offset="0.6250" stop-color="#2c728e"/><stop offset="0.6562" stop-color="#2f6b8e"/><stop offset="0.6875" stop-color="#33638d"/><stop offset="0.7188" stop-color="#375b8d"/><stop offset="0.7500" stop-color="#3b528b"/><stop offset="0.7812" stop-color="#3e4989"/><stop offset="0.8125" stop-color="#424086"/><stop offset="0.8438" stop-color="#453781"/><stop offset="0.8750" stop-color="#472d7b"/><stop offset="0.9062" stop-color="#482374"/><stop offset="0.9375" stop-color="#48186a"/><stop offset="0.9688" stop-color="#470d60"/><stop offset="1.0000" stop-color="#440154"/></linearGradient>
<rect x="309.20" y="680.90" width="10.50" height="142.10" fill="url(#gC)" stroke="#222" stroke-width="0.6"/>
<text x="323.20" y="825.60" font-size="7.16" text-anchor="start" fill="#000">0.00</text>
<text x="323.20" y="797.18" font-size="7.16" text-anchor="start" fill="#000">0.01</text>
<text x="323.20" y="768.76" font-size="7.16" text-anchor="start" fill="#000">0.02</text>
<text x="323.20" y="740.34" font-size="7.16" text-anchor="start" fill="#000">0.03</text>
<text x="323.20" y="711.92" font-size="7.16" text-anchor="start" fill="#000">0.04</text>
<text x="323.20" y="683.50" font-size="7.16" text-anchor="start" fill="#000">0.05</text>
<path d="M319.70 823.00h2.6M319.70 794.58h2.6M319.70 766.16h2.6M319.70 737.74h2.6M319.70 709.32h2.6M319.70 680.90h2.6" stroke="#000" stroke-width="0.75" fill="none"/>
<text transform="translate(303.30 752.20) rotate(-90)" font-size="7.2" text-anchor="middle" fill="#000">Adjusted P-value</text>
</svg>
</body></html>
